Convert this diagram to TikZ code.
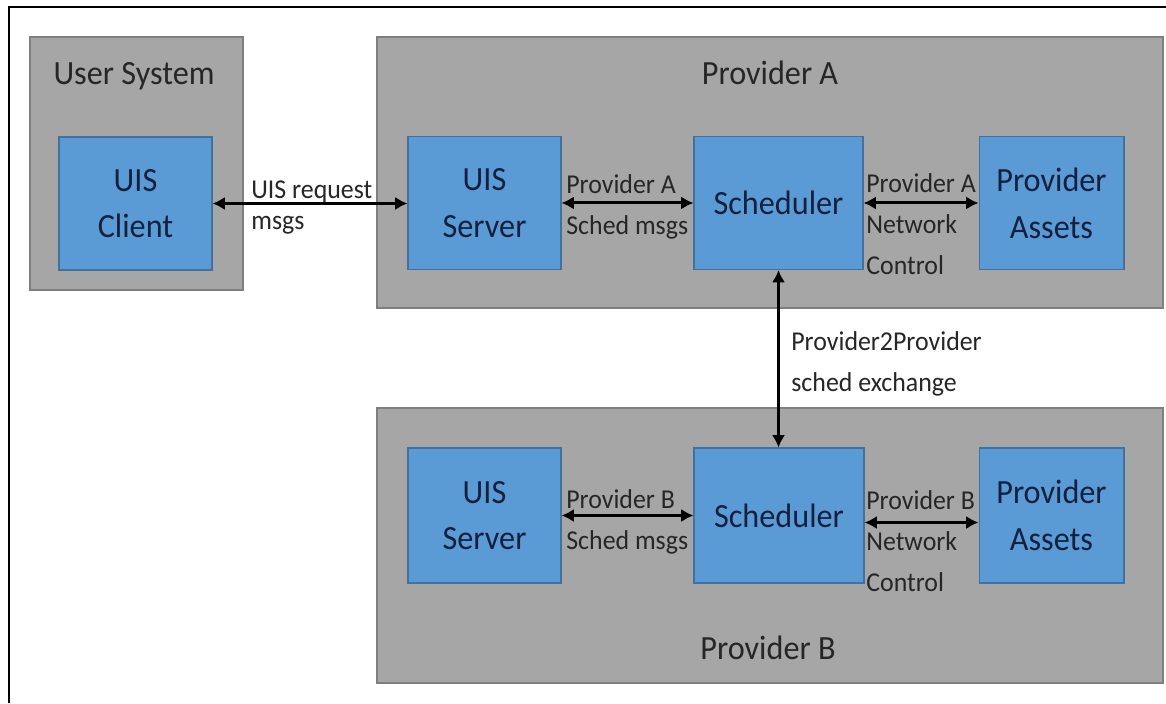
\documentclass[tikz,border=0pt]{standalone}
\usepackage{fontspec}
\setmainfont{Carlito}[FakeStretch=0.95]
\usetikzlibrary{arrows.meta}
\definecolor{grpfill}{HTML}{A6A6A6}
\definecolor{grpedge}{HTML}{7F7F7F}
\definecolor{blkfill}{HTML}{5B9BD5}
\definecolor{blkedge}{HTML}{41719C}
\definecolor{blktext}{HTML}{13213F}
\tikzset{
  grp/.style={fill=grpfill, draw=grpedge, line width=0.6pt},
  blk/.style={fill=blkfill, draw=blkedge, line width=0.6pt, minimum height=2.66cm,
    align=center, text=blktext, inner sep=0pt, font=\fontsize{19.3}{26.6}\selectfont},
  ttl/.style={text=black!85, inner sep=0pt, font=\fontsize{19.3}{23}\selectfont},
  lbl/.style={text=black!85, inner sep=0pt, align=left, font=\fontsize{15.5}{23.5}\selectfont},
  msg/.style={{Latex[length=7pt,width=7.5pt]}-{Latex[length=7pt,width=7.5pt]}, line width=1.7pt}
}
\begin{document}
\begin{tikzpicture}[x=0.02cm, y=0.02cm]
\useasboundingbox (0,0) rectangle (1166,703);
% frame
\draw[line width=1.1pt] (9,0) -- (9,696) -- (1166,696);
% systems
\draw[grp] (30,413) rectangle (243,666);
\draw[grp] (377,395) rectangle (1163,666);
\draw[grp] (377,20) rectangle (1163,295);
\node[ttl, anchor=base] (usrttl) at (134,618) {User System};
\node[ttl, anchor=base] (provAttl) at (770,618) {Provider A};
\node[ttl, anchor=base] (provBttl) at (768,43) {Provider B};
% blocks
\node[blk, minimum width=3.06cm] (client) at (135.5,499.5) {UIS\\Client};
\node[blk, minimum width=3.06cm] (srvA) at (484.5,500) {UIS\\Server};
\node[blk, minimum width=3.38cm] (schA) at (778.5,500) {Scheduler};
\node[blk, minimum width=2.9cm] (astA) at (1051.5,500) {Provider\\Assets};
\node[blk, minimum width=3.06cm, minimum height=2.7cm] (srvB) at (484.5,187.5) {UIS\\Server};
\node[blk, minimum width=3.4cm, minimum height=2.7cm] (schB) at (779,187.5) {Scheduler};
\node[blk, minimum width=2.9cm, minimum height=2.7cm] (astB) at (1051.5,187.5) {Provider\\Assets};
% messages
\draw[msg] (client.east) -- (client.east -| srvA.west);
\draw[msg] (srvA.east) -- (srvA.east -| schA.west);
\draw[msg] (schA.east) -- (schA.east -| astA.west);
\draw[msg] (schA.south) -- (schA.south |- schB.north);
\draw[msg] (srvB.east) -- (srvB.east -| schB.west);
\draw[msg] ([yshift=-4pt]schB.east) -- ([yshift=-4pt]schB.east -| astB.west);
% labels (base = last line)
\node[lbl, anchor=base west] (reqlbl) at (251,473) {UIS request\\[-5.8pt]msgs};
\node[lbl, anchor=base west] (schAlbl) at (566,468) {Provider A\\Sched msgs};
\node[lbl, anchor=base west] (netAlbl) at (866,428) {Provider A\\Network\\Control};
\node[lbl, anchor=base west] (p2plbl) at (791,311) {Provider2Provider\\sched exchange};
\node[lbl, anchor=base west] (schBlbl) at (566,153) {Provider B\\Sched msgs};
\node[lbl, anchor=base west] (netBlbl) at (866,111) {Provider B\\Network\\Control};
\end{tikzpicture}
\end{document}
